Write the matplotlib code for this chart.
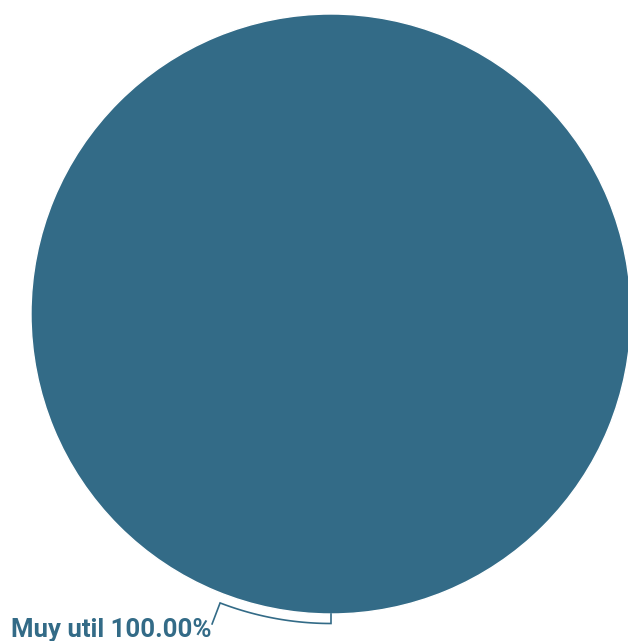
import matplotlib
matplotlib.use("Agg")
import matplotlib.pyplot as plt
import numpy as np

labels = ["Muy util"]
values = [100.0]
colors = ["#336b87"]

W, H = 628, 641
fig = plt.figure(figsize=(W / 100, H / 100), dpi=100)
ax = fig.add_axes([0, 0, 1, 1])

cx, cy, r = 331, 314, 300
ax.pie(values, colors=colors, radius=r, center=(cx, cy), startangle=90,
       wedgeprops=dict(edgecolor="white", linewidth=1), frame=True)
ax.set_xlim(0, W)
ax.set_ylim(H, 0)
ax.set_aspect("auto")
ax.axis("off")

# leader line
total = sum(values)
pct = values[0] / total * 100
rl = 309.5
t = np.radians(np.linspace(90, 111, 40))
xs = cx + rl * np.cos(t)
ys = cy + rl * np.sin(t)
lx = np.concatenate([[cx], xs, [xs[-1] - 8]])
ly = np.concatenate([[r + cy], ys, [ys[-1] + 21]])
ax.plot(lx, ly, color=colors[0], lw=1.2, solid_joinstyle="miter")

ax.text(xs[-1] - 9, ys[-1] + 27, f"{labels[0]} {pct:.2f}%", ha="right", va="center",
        fontsize=18.5, fontweight="bold", family="Roboto", color=colors[0])

fig.savefig("out.png", dpi=100)
